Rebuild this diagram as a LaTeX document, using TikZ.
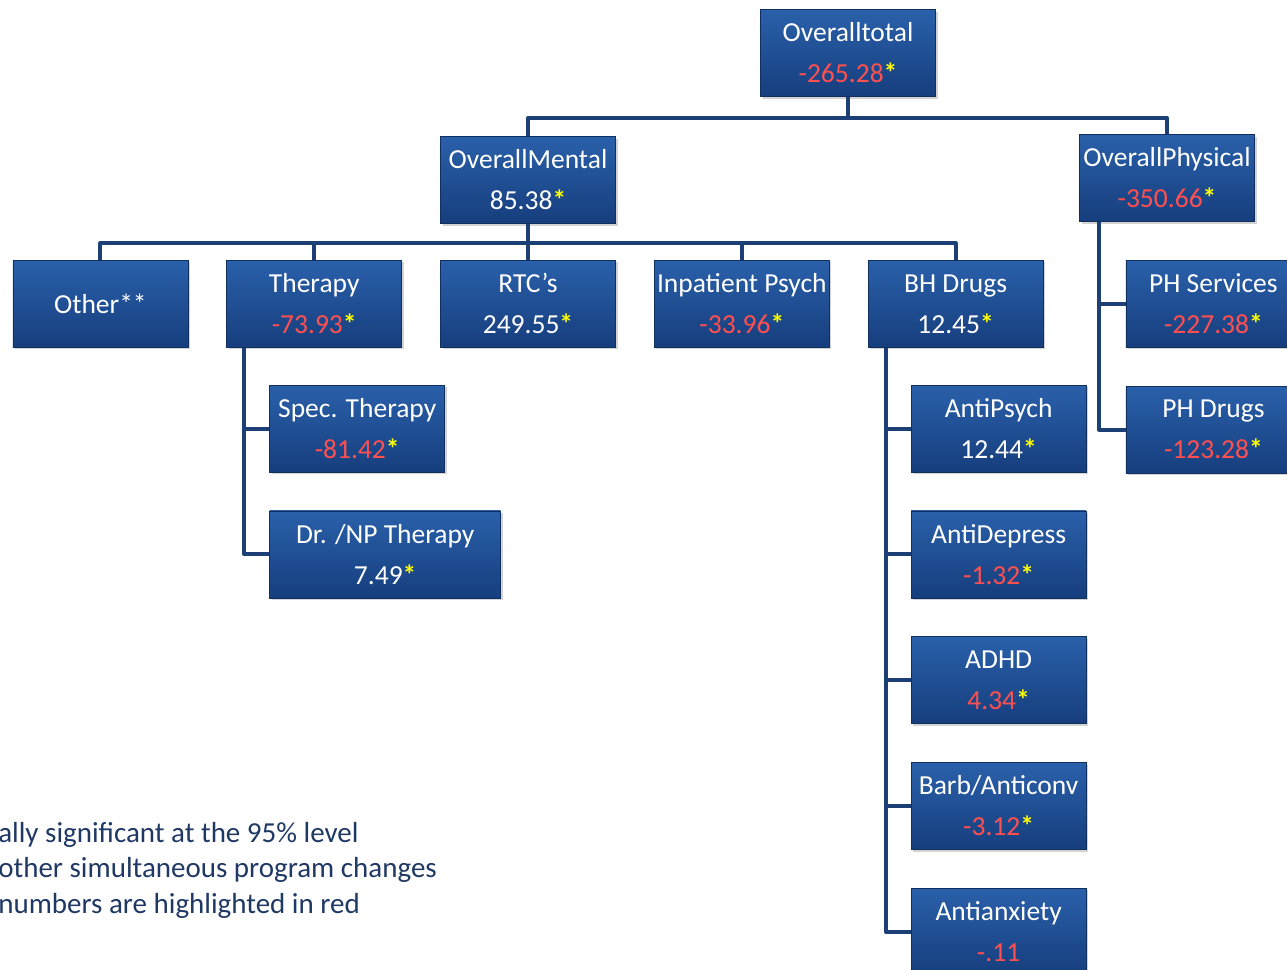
\documentclass[tikz,border=0pt]{standalone}
\usepackage{fontspec}
\setmainfont{Carlito}
\usetikzlibrary{positioning,shadows}

\definecolor{boxtop}{RGB}{42,96,170}
\definecolor{boxbot}{RGB}{22,62,125}
\definecolor{boxline}{RGB}{18,48,95}
\definecolor{linkblue}{RGB}{28,64,118}
\definecolor{negred}{RGB}{255,80,80}
\definecolor{starye}{RGB}{255,255,0}
\definecolor{notenavy}{RGB}{31,56,100}

\newcommand{\sig}{\textcolor{starye}{\textbf{*}}}
\newcommand{\negv}[1]{\textcolor{negred}{#1}}

\tikzset{
  box/.style={draw=boxline, line width=0.8pt, top color=boxtop, bottom color=boxbot,
    minimum width=175pt, minimum height=87pt, inner sep=0pt, align=center, text=white,
    font=\fontsize{27.5}{41}\selectfont,
    drop shadow={opacity=0.35, shadow xshift=2pt, shadow yshift=-2pt}},
  link/.style={draw=linkblue, line width=4pt, line join=round}
}

\begin{document}
\begin{tikzpicture}[x=1pt,y=1pt,node distance=38pt]
		\useasboundingbox (0,0) rectangle (1287,-969);
		
		\node[box] (tot) at (848,-53) {Overalltotal\\\negv{-265.28}\sig};
		\node[box] (ment) at (528,-180) {OverallMental\\85.38\sig};
		\node[box] (phys) at (1167,-178) {OverallPhysical\\\negv{-350.66}\sig};
		
		\node[box,below=36pt of ment] (rtc) {RTC's\\249.55\sig};
		\node[box,left=of rtc] (ther) {Therapy\\\negv{-73.93}\sig};
		\node[box,left=of ther] (oth) {Other**};
		\node[box,right=of rtc] (inp) {Inpatient Psych\\\negv{-33.96}\sig};
		\node[box,right=of inp] (bhd) {BH Drugs\\12.45\sig};
		\node[box,right=82pt of bhd] (phs) {PH Services\\\negv{-227.38}\sig};
		\node[box,below=of phs] (phd) {PH Drugs\\\negv{-123.28}\sig};
		
		\node[box,below=37pt of ther,xshift=43pt] (spec) {Spec. Therapy\\\negv{-81.42}\sig};
		\node[box,minimum width=231pt,below=38pt of spec.south west,anchor=north west] (drnp) {Dr. /NP Therapy\\7.49\sig};
		
		\node[box,below=37pt of bhd,xshift=43pt] (apsy) {AntiPsych\\12.44\sig};
		\node[box,below=of apsy] (adep) {AntiDepress\\\negv{-1.32}\sig};
		\node[box,below=of adep] (adhd) {ADHD\\\negv{4.34}\sig};
		\node[box,below=of adhd] (barb) {Barb/Anticonv\\\negv{-3.12}\sig};
		\node[box,below=of barb] (anx) {Antianxiety\\\negv{-.11}};
		
		% tree lines
		\coordinate (tj) at ([yshift=-21pt]tot.south);
		\draw[link] (tot.south) -- (tj) -| (ment.north);
		\draw[link] (tj) -| (phys.north);
		
		\coordinate (mj) at ([yshift=-19pt]ment.south);
		\draw[link] (ment.south) -- (mj) -| (oth.north);
		\draw[link] (mj) -| (ther.north);
		\draw[link] (mj) -- (rtc.north);
		\draw[link] (mj) -| (inp.north);
		\draw[link] (mj) -| (bhd.north);
		
		\coordinate (tb) at ([xshift=18pt]ther.south west);
		\draw[link] (tb) |- (spec.west);
		\draw[link] (tb) |- (drnp.west);
		
		\coordinate (bb) at ([xshift=18pt]bhd.south west);
		\draw[link] (bb) |- (apsy.west);
		\draw[link] (bb) |- (adep.west);
		\draw[link] (bb) |- (adhd.west);
		\draw[link] (bb) |- (barb.west);
		\draw[link] (bb) |- (anx.west);
		
		\coordinate (pb) at ([xshift=20pt]phys.south west);
		\draw[link] (pb) |- (phs.west);
		\draw[link] (pb) |- (phd.west);
		
		\node[anchor=east,align=left,inner sep=0pt,text=notenavy,font=\fontsize{29}{35.5}\selectfont] (note) at (437,-870)
			{ally significant at the 95\% level\\other simultaneous program changes\\numbers are highlighted in red};
	\end{tikzpicture}
\end{document}
